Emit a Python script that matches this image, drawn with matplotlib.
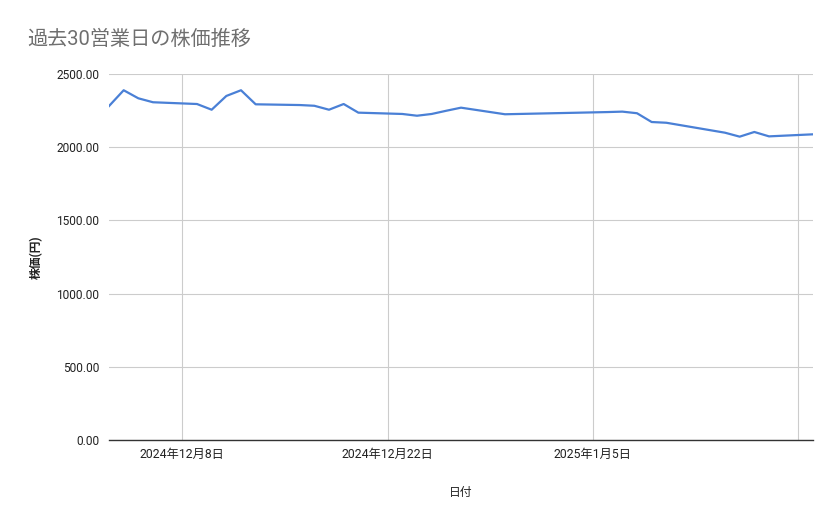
import numpy as np
import pandas as pd
import matplotlib
matplotlib.use('Agg')
import matplotlib.pyplot as plt
import matplotlib.dates as mdates

plt.rcParams['font.family'] = ['Roboto', 'Noto Sans CJK JP', 'DejaVu Sans']

# 30 business days (TSE holidays skipped)
dates = pd.to_datetime([
    '2024-12-03', '2024-12-04', '2024-12-05', '2024-12-06',
    '2024-12-09', '2024-12-10', '2024-12-11', '2024-12-12', '2024-12-13',
    '2024-12-16', '2024-12-17', '2024-12-18', '2024-12-19', '2024-12-20',
    '2024-12-23', '2024-12-24', '2024-12-25', '2024-12-26', '2024-12-27',
    '2024-12-30',
    '2025-01-06', '2025-01-07', '2025-01-08', '2025-01-09', '2025-01-10',
    '2025-01-14', '2025-01-15', '2025-01-16', '2025-01-17',
    '2025-01-20',
])
prices = [
    2281, 2389, 2334, 2307,
    2295, 2256, 2350, 2389, 2293,
    2288, 2283, 2256, 2295, 2236,
    2227, 2215, 2227, 2249, 2270,
    2225,
    2240, 2243, 2232, 2172, 2167,
    2099, 2072, 2104, 2074,
    2088,
]

tick_dates = pd.to_datetime(['2024-12-08', '2024-12-22', '2025-01-05', '2025-01-19'])
tick_labels = ['2024年12月8日', '2024年12月22日', '2025年1月5日', '']
y_ticks = [0, 500, 1000, 1500, 2000, 2500]

W, H = 839, 519
fig = plt.figure(figsize=(W / 100, H / 100), dpi=100)
ax = fig.add_axes([109 / W, 1 - 440 / H, (813 - 109) / W, (440 - 74) / H])

ax.plot(dates, prices, color='#4a80d6', linewidth=1.6, solid_joinstyle='round')

ax.set_xlim(dates[0], dates[-1])
ax.set_ylim(0, 2500)
ax.set_yticks(y_ticks)
ax.set_yticklabels(['%.2f' % v for v in y_ticks])
ax.set_xticks(tick_dates)
ax.set_xticklabels(tick_labels)

ax.grid(True, color='#cccccc', linewidth=0.8)
ax.set_axisbelow(True)
for s in ['top', 'right', 'left']:
    ax.spines[s].set_visible(False)
ax.spines['bottom'].set_color('#333333')
ax.spines['bottom'].set_linewidth(1.0)
ax.tick_params(axis='both', length=0, labelcolor='#222222')
ax.tick_params(axis='y', labelsize=8.6, pad=7)
ax.tick_params(axis='x', labelsize=8.8, pad=6)

ax.set_xlabel('日付', fontsize=8.5, color='#222222', labelpad=18)
ax.set_ylabel('株価(円)', fontsize=8.5, color='#222222', fontweight='bold', labelpad=10)

fig.text(27 / W, 1 - 39 / H, '過去30営業日の株価推移', fontsize=14.5, color='#6f6f6f',
         va='center', ha='left')

fig.savefig('out.png', dpi=100)
